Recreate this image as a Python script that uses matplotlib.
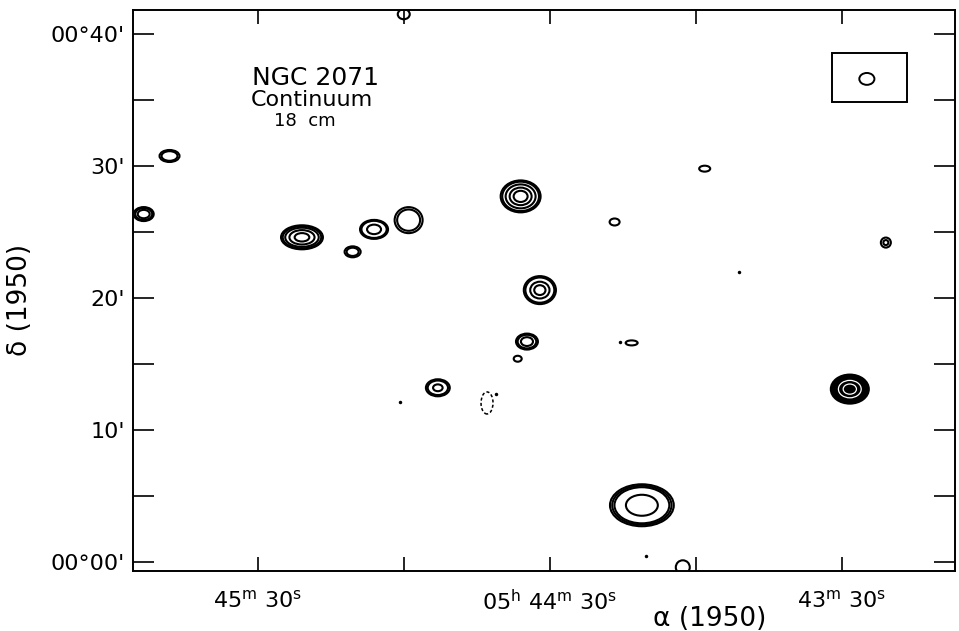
import matplotlib.pyplot as plt
from matplotlib.patches import Ellipse, Rectangle

# RA offset in seconds of time from 05h44m30s (east = positive), Dec in arcmin from 00d00'
src_ra = [78.1, 83.4, 50.9, 40.5, 36.1, 29.0, 30.0, 6.0, -13.3, -31.8, -69.0,
          2.05, 4.7, -16.8, 23.0, 6.6, -18.9, -27.3]
src_dec = [30.76, 26.36, 24.6, 23.5, 25.2, 25.9, 41.5, 27.7, 25.76, 29.8, 24.2,
           20.6, 16.7, 16.6, 13.2, 15.4, 4.3, -0.4]
src_w = [4.1, 4.1, 8.6, 3.3, 5.75, 5.75, 2.46, 8.2, 2.05, 2.26, 2.05,
         6.6, 4.5, 2.46, 4.9, 1.64, 13.1, 2.87]
src_h = [0.91, 1.06, 1.82, 0.83, 1.44, 1.97, 0.76, 2.42, 0.53, 0.45, 0.76,
         2.12, 1.21, 0.38, 1.29, 0.45, 3.18, 1.06]
src_levels = [[1, 0.8], [1, 0.85, 0.6], [1, 0.92, 0.8, 0.6, 0.35], [1, 0.75],
              [1, 0.9, 0.5], [1, 0.82], [1], [1, 0.92, 0.75, 0.55, 0.35], [1], [1],
              [1, 0.5], [1, 0.9, 0.6, 0.35], [1, 0.85, 0.55], [1], [1, 0.85, 0.4],
              [1], [1, 0.93, 0.86, 0.5], [1]]

# the strong source near 43m30s (saturated contours)
dark_ra, dark_dec, dark_w, dark_h = -61.6, 13.1, 7.8, 2.2
# negative (dashed) contour
neg_ra, neg_dec, neg_w, neg_h = 12.9, 12.05, 2.46, 1.67
# isolated single-pixel peaks
dot_ra = [30.8, 11.1, -14.4, -38.8, -19.7]
dot_dec = [12.1, 12.7, 16.7, 22.0, 0.45]

# synthesized beam box (x0, y0, width, height)
beam_box = (-73.3, 34.85, 15.4, 3.71)
beam_ra, beam_dec, beam_w, beam_h = -65.1, 36.6, 3.1, 0.9

xticks_major = [60, 0, -60]
xtick_labels = [r'45$^{\mathrm{m}}$ 30$^{\mathrm{s}}$',
                r'05$^{\mathrm{h}}$ 44$^{\mathrm{m}}$ 30$^{\mathrm{s}}$',
                r'43$^{\mathrm{m}}$ 30$^{\mathrm{s}}$']
xticks_minor = [30, -30]
yticks_major = [40, 30, 20, 10, 0]
ytick_labels = ["00°40'", "30'", "20'", "10'", "00°00'"]
yticks_minor = [35, 25, 15, 5]

W, H = 959, 631
fig = plt.figure(figsize=(W / 100, H / 100), dpi=100)
ax = fig.add_axes([133 / W, 1 - 571 / H, 822 / W, 561 / H])
ax.set_xlim(85.6, -83.2)
ax.set_ylim(-0.68, 41.82)

lw = 1.5
for ra, dec, w, h, levels in zip(src_ra, src_dec, src_w, src_h, src_levels):
    for f in levels:
        ax.add_patch(Ellipse((ra, dec), w * f, h * f, fill=False, ec='k', lw=lw))

ax.add_patch(Ellipse((dark_ra, dark_dec), dark_w, dark_h, fc='k', ec='k', lw=lw))
for f in [0.6, 0.35]:
    ax.add_patch(Ellipse((dark_ra, dark_dec), dark_w * f, dark_h * f, fill=False,
                         ec='w', lw=0.9))

ax.add_patch(Ellipse((neg_ra, neg_dec), neg_w, neg_h, fill=False, ec='k', lw=1.1,
                     ls=(0, (2, 1.5))))
ax.plot(dot_ra, dot_dec, 'ko', ms=2.5, mew=0)

ax.add_patch(Rectangle(beam_box[:2], beam_box[2], beam_box[3], fill=False,
                       ec='k', lw=1.4))
ax.add_patch(Ellipse((beam_ra, beam_dec), beam_w, beam_h, fill=False, ec='k', lw=1.4))

for s in ax.spines.values():
    s.set_linewidth(1.4)

ax.set_xticks(xticks_major)
ax.set_xticklabels(xtick_labels)
ax.set_xticks(xticks_minor, minor=True)
ax.set_yticks(yticks_major)
ax.set_yticklabels(ytick_labels)
ax.set_yticks(yticks_minor, minor=True)
ax.tick_params(axis='x', which='both', direction='in', top=True, length=10,
               width=1.2, pad=13, labelsize=16)
ax.tick_params(axis='y', which='both', direction='in', right=True, length=15,
               width=1.2, pad=6, labelsize=16)

fig.text(315 / W, 1 - 78 / H, 'NGC 2071', ha='center', va='center', fontsize=18)
fig.text(312 / W, 1 - 100 / H, 'Continuum', ha='center', va='center', fontsize=16)
fig.text(305 / W, 1 - 121 / H, '18  cm', ha='center', va='center', fontsize=13)
fig.text(710 / W, 1 - 619 / H, 'α (1950)', ha='center', va='center', fontsize=19)
fig.text(20 / W, 1 - 300 / H, 'δ (1950)', ha='center', va='center', fontsize=19,
         rotation=90)

fig.savefig('out.png', dpi=100)
